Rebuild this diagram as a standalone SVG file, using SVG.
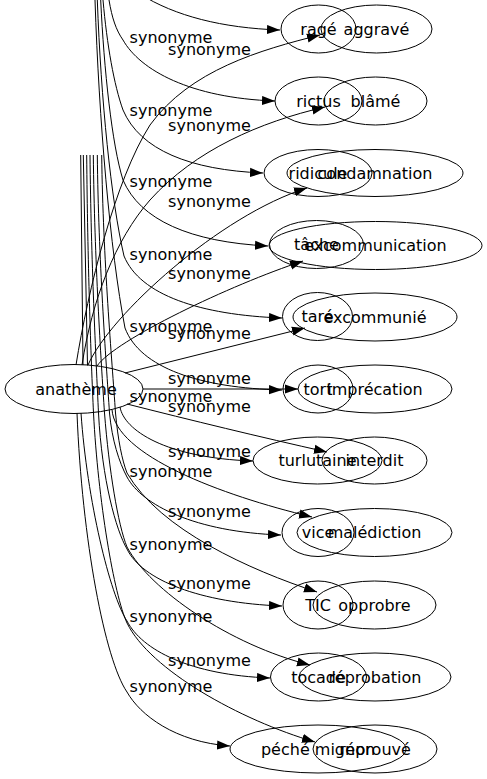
<svg xmlns="http://www.w3.org/2000/svg" width="487" height="779" viewBox="0 0 487 779">
<style>
  .n ellipse{fill:none;stroke:#000;stroke-width:1}
  text{font-family:"DejaVu Sans",Verdana,sans-serif;font-size:16px;fill:#000}
  .n text{text-anchor:middle}
  .e path{fill:none;stroke:#000;stroke-width:1}
  .e path.a{marker-end:url(#ah)}
  .l text{text-anchor:middle}
</style>
<defs>
  <marker id="ah" markerUnits="userSpaceOnUse" markerWidth="14" markerHeight="10" refX="13" refY="5" orient="auto">
    <path d="M0,0.4 L13,5 L0,9.6 Z" fill="#000"/>
  </marker>
</defs>
<rect width="487" height="779" fill="#fff"/>
<g id="edges" class="e">
  <!-- A edges (upper, from top) -->
  <path class="a" d="M140,-6 C175,16 222,28 280,30"/>
  <path class="a" d="M109,0 C112,18 116,30 123,40 C140,70 190,98 275,101"/>
  <path class="a" d="M103,0 C107,45 114,85 123,110 C140,150 190,170 263,173"/>
  <path class="a" d="M100.7,0 C104,70 112,145 123,180 C140,220 190,242 268,246"/>
  <path class="a" d="M97.3,0 C101,100 111,200 124,256 C140,295 200,315 282,318"/>
  <path class="a" d="M95,0 C99,120 110,250 125,328 C140,368 200,388 282,390"/>
  <!-- stub lines -->
  <path d="M80.7,155 L83,365"/>
  <path d="M83.3,155 L87.5,365.5"/>
  <!-- lower trunks passing through -->
  <path class="a" d="M86.7,155 C87.5,260 91,360 93.5,413 C98,500 114,595 127,623 C150,670 240,720 315,742"/>
  <path class="a" d="M90,155 C91,260 96,360 98.5,413 C102,480 116,530 127,549 C142,580 200,603 282,606"/>
  <path class="a" d="M93.3,155 C94.5,260 101,360 104.5,413 C109,470 118,525 127,547 C150,590 230,645 310,665"/>
  <path class="a" d="M97.3,155 C98.5,260 106,360 109.5,413 C112,440 119,462 127,477 C142,505 195,532 281,535"/>
  <path class="a" d="M101.7,155 C103,260 112,360 115.5,413 C118,440 122,460 127,473 C160,530 250,570 317,592"/>
  <!-- lower A from ellipse -->
  <path class="a" d="M120,407 C124,430 165,458 253,461"/>
  <path class="a" d="M81,413 C87,500 110,595 127,621 C142,650 190,675 270,678"/>
  <path class="a" d="M77,413 C82,540 105,660 127,692 C140,715 175,742 230,746"/>
  <!-- B edges -->
  <path class="a" d="M76,365 C88,290 115,180 150,125 C190,70 260,50 320,35"/>
  <path class="a" d="M82,365 C92,300 115,240 150,200 C195,150 260,122 325,107"/>
  <path class="a" d="M88,365 C110,315 220,215 307,188"/>
  <path class="a" d="M97,366 C115,340 230,285 303,261"/>
  <path class="a" d="M125,373 C185,358 245,343 305,328"/>
  <path class="a" d="M143,389 L298,389"/>
  <path class="a" d="M127,404 C190,420 260,437 327,452"/>
  <path class="a" d="M112,409.5 C115,455 220,495 312,517"/>
</g>
<g id="edge-labels" class="l">
  <text x="171" y="43">synonyme</text>
  <text x="171" y="115.5">synonyme</text>
  <text x="171" y="187">synonyme</text>
  <text x="171" y="260">synonyme</text>
  <text x="171" y="331.5">synonyme</text>
  <text x="171" y="402">synonyme</text>
  <text x="171" y="477">synonyme</text>
  <text x="171" y="549.5">synonyme</text>
  <text x="171" y="621.5">synonyme</text>
  <text x="171" y="692">synonyme</text>
  <text x="209.5" y="54.5">synonyme</text>
  <text x="209.5" y="130.5">synonyme</text>
  <text x="209.5" y="207">synonyme</text>
  <text x="209.5" y="279">synonyme</text>
  <text x="209.5" y="339">synonyme</text>
  <text x="209.5" y="384">synonyme</text>
  <text x="209.5" y="412">synonyme</text>
  <text x="209.5" y="457">synonyme</text>
  <text x="209.5" y="517">synonyme</text>
  <text x="209.5" y="589">synonyme</text>
  <text x="209.5" y="666">synonyme</text>
</g>
<g id="anatheme" class="n"><ellipse cx="74" cy="389" rx="69" ry="24.5"/><text x="76" y="394.5">anathème</text></g>
<g id="rage" class="n"><ellipse cx="318.5" cy="29" rx="37.5" ry="24"/><text x="318.5" y="34.5">ragé</text></g>
<g id="aggrave" class="n"><ellipse cx="376.5" cy="29" rx="55.5" ry="24"/><text x="376.5" y="34.5">aggravé</text></g>
<g id="rictus" class="n"><ellipse cx="318.5" cy="101" rx="43.5" ry="24"/><text x="318.5" y="106.5">rictus</text></g>
<g id="blame" class="n"><ellipse cx="375.5" cy="101" rx="51.5" ry="24"/><text x="375.5" y="106.5">blâmé</text></g>
<g id="ridicule" class="n"><ellipse cx="318" cy="173" rx="54" ry="23.5"/><text x="318" y="178.5">ridicule</text></g>
<g id="condamnation" class="n"><ellipse cx="375" cy="173" rx="88" ry="23.5"/><text x="375" y="178.5">condamnation</text></g>
<g id="tache" class="n"><ellipse cx="316.5" cy="244.5" rx="47" ry="24"/><text x="316.5" y="250">tâche</text></g>
<g id="excommunication" class="n"><ellipse cx="375.5" cy="245.5" rx="106.5" ry="24"/><text x="375.5" y="251">excommunication</text></g>
<g id="tare" class="n"><ellipse cx="317.5" cy="316.5" rx="35" ry="24"/><text x="317.5" y="322">taré</text></g>
<g id="excommunie" class="n"><ellipse cx="375" cy="317" rx="82" ry="24"/><text x="375" y="322.5">excommunié</text></g>
<g id="tort" class="n"><ellipse cx="318" cy="389" rx="35" ry="24"/><text x="318" y="394.5">tort</text></g>
<g id="imprecation" class="n"><ellipse cx="375" cy="389" rx="77" ry="24"/><text x="375" y="394.5">imprécation</text></g>
<g id="turlutaine" class="n"><ellipse cx="317.5" cy="460.5" rx="64.5" ry="23.5"/><text x="317.5" y="466">turlutaine</text></g>
<g id="interdit" class="n"><ellipse cx="374.5" cy="460.5" rx="52.5" ry="23.5"/><text x="374.5" y="466">interdit</text></g>
<g id="vice" class="n"><ellipse cx="318" cy="532.5" rx="36" ry="24"/><text x="318" y="538">vice</text></g>
<g id="malediction" class="n"><ellipse cx="374.5" cy="532.5" rx="77.5" ry="24"/><text x="374.5" y="538">malédiction</text></g>
<g id="tic" class="n"><ellipse cx="318" cy="605" rx="35" ry="24"/><text x="318" y="610.5">TIC</text></g>
<g id="opprobre" class="n"><ellipse cx="374.5" cy="605" rx="61.5" ry="24"/><text x="374.5" y="610.5">opprobre</text></g>
<g id="tocade" class="n"><ellipse cx="318.5" cy="677" rx="48" ry="24"/><text x="318.5" y="682.5">tocade</text></g>
<g id="reprobation" class="n"><ellipse cx="375" cy="677" rx="76" ry="24"/><text x="375" y="682.5">réprobation</text></g>
<g id="peche-mignon" class="n"><ellipse cx="318" cy="749" rx="88" ry="24"/><text x="318" y="754.5">péché mignon</text></g>
<g id="reprouve" class="n"><ellipse cx="375" cy="749" rx="62" ry="24"/><text x="375" y="754.5">réprouvé</text></g>
</svg>
